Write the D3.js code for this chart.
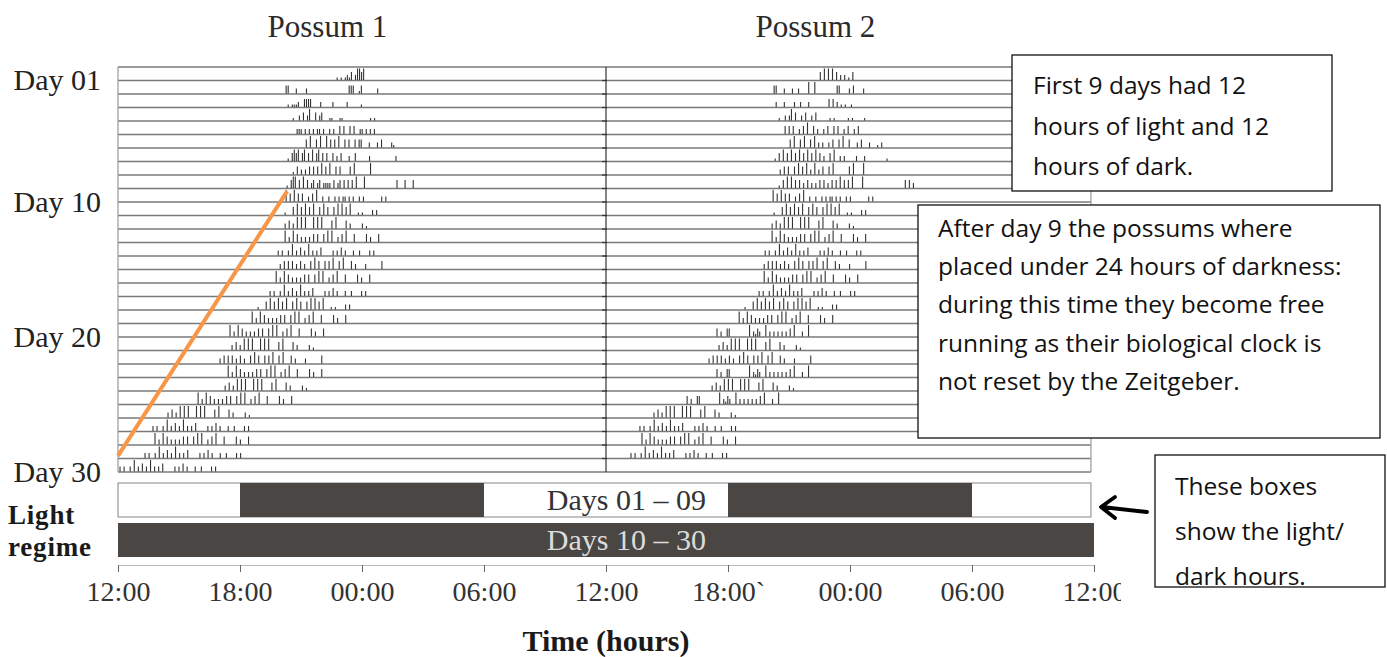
<!DOCTYPE html>
<html>
<head>
<meta charset="utf-8">
<script src="https://cdn.jsdelivr.net/npm/d3@7"></script>
<style>
  body { margin: 0; background: #fff; }
  svg { display: block; }
  .serif { font-family: "Liberation Serif", "DejaVu Serif", serif; }
  .note { font-family: "Open Sans", "Noto Sans", sans-serif; }
</style>
</head>
<body>
<div id="chart"></div>
<script>
//-----------------------------DATA-----------------------------//
const possumNames = ["Possum 1", "Possum 2"];
const dayTicks = [1, 10, 20, 30];
const dayTickLabels = ["Day 01", "Day 10", "Day 20", "Day 30"];
const timeTicks = [0, 6, 12, 18, 24, 30, 36, 42, 48];
const timeLabels = ["12:00", "18:00", "00:00", "06:00", "12:00", "18:00`", "00:00", "06:00", "12:00"];
const regimeLabels = ["Days 01 \u2013 09", "Days 10 \u2013 30"];
const darkHours0109 = [[6, 18], [30, 42]]; // hours after 12:00 on the 48 h axis
const darkHours1030 = [[0, 48]];

// activity bouts: one character per 0.1 h, digit = bar height level (blank = no activity)
const binHours = 0.1;
const boutA = "4 2 4 3 2 2 2 3 3  3 4 4  2 3 4   3     3 2   3";
const boutB = "2 2  2 4 2 3 2 4 2 2 3     2 2 3 2   2  2    2 2";
const boutC = "1   3 4 3 4 3 4  3 4 3  3 4 4 3 4   1 1    2 2";
const boutD = "2 3 2 4 4 4   4 4 4    3 4    3 2     2 1";
const boutE = "2 3 3 3 2 3 2  3 4 3  3 3 4  3 4   3 2    2       3";
const boutF = "3 2  33         4 2132  4 2 2 2 2 2 3 4   2  4";
const boutP = "4 3 4 3 3  2 3 4  2  2  2 2 22 2 2  2 2        2 2";

const possum1Onset = [10.78, 8.27, 8.37, 8.62, 8.81, 9.06, 8.37, 8.62, 8.32, 8.27,
  8.22, 8.22, 8.22, 7.88, 7.98, 7.78, 7.48, 6.89, 6.60, 5.51,
  5.61, 5.02, 5.42, 5.27, 3.94, 2.46, 1.72, 1.82, 1.33, 0.10];
const possum1Bouts = [
  "1 1 1213 24434",
  "33   2    2                    333  13       2",
  "1 1112  3333    2     2      2      1",
  "1  2 3 24  3 23   11   11             1 1",
  "222 2 2 2 22 2  2 2  3 3  3 3  22 2 2 2",
  "  3 4  3 4  4 3 3 4  3 3  3 33   2   2 3    21",
  "1 3434 34 3 4 34 3 3  3 2 3   2  3      2            2",
  "1 3 2 2 3 3 3 4 3 4  3 3    3 4       4",
  "1 344 3 4 3 23 23 2222 3 23 3 3 3 4   4               3   3   3",
  boutP, boutC, boutD, boutA, boutB, boutE, boutA, boutB, boutC, boutA, boutA,
  boutD, boutE, boutA, boutD, boutA, boutD, boutB, boutA, boutB, boutB
];

const possum2Onset = [10.54, 8.27, 8.37, 8.52, 8.81, 9.06, 8.32, 8.57, 8.52, 8.22,
  8.27, 8.17, 8.17, 7.83, 7.78, 7.78, 7.53, 6.84, 6.55, 5.46,
  5.56, 5.07, 5.46, 5.22, 3.99, 2.36, 1.67, 1.77, 1.23, 0];
const possum2Bouts = [
  "3 4 4 4 3 2 2 1 3",
  "33   2   2  2    4  4          33    2 3    2",
  "2   2    2  2   2         3 3 2 1 1  1",
  "1  2 24 3  2 3  2 3      1 1      1 1     1",
  "3 3 3  2 3 4  3 2  2 3  3 3  2 3  2 3",
  "3 4  3 4  3 4 2 2  2 3  3 4  3   2 3   2   1 2",
  "1 3 4 3 4 3 4 3 4 3 4 3 2  3 4  2 2     2   2          1",
  "2 3 3  3 4 3 4 2 4 2 3  3 4       3 4    4",
  "1 3 4 4 3 3 2 3 2 2 3 3 2 3 3 4 3 3 4    4                    3 3 2",
  boutP, boutC, boutD, boutA, boutB, boutE, boutA, boutB, boutC, boutA, boutF,
  boutD, boutE, boutF, boutD, boutF, boutD, boutB, boutA, boutB, ""
];

// hand-drawn trend line (hour after 12:00, day)
const trendLine = [{ hour: 0, day: 28.8 }, { hour: 8.32, day: 9.2 }];

const notes = [
  ["First 9 days had 12", "hours of light and 12", "hours of dark."],
  ["After day 9 the possums where", "placed under 24 hours of darkness:",
   "during this time they become free", "running as their biological clock is",
   "not reset by the Zeitgeber."],
  ["These boxes", "show the light/", "dark hours."]
];

//---------------------------SETUP------------------------------//
const width = 1387;
const height = 657;
const svg = d3.select("#chart").append("svg")
  .attr("width", width)
  .attr("height", height);

const x = d3.scaleLinear().domain([0, 48]).range([118, 1094]);
const y = d3.scaleLinear().domain([0, 30]).range([67, 472]);
const panelEnd = 47.85;
const levelHeight = [0, 2.5, 5, 8, 11.5];

const possums = [
  { name: possumNames[0], offset: 0, onset: possum1Onset, bouts: possum1Bouts },
  { name: possumNames[1], offset: 24, onset: possum2Onset, bouts: possum2Bouts }
];

//---------------------------TITLES-----------------------------//
svg.selectAll(".title").data(possums).join("text")
  .attr("class", "serif title")
  .attr("x", d => x(d.offset + 10.3))
  .attr("y", 37)
  .attr("text-anchor", "middle")
  .style("font-size", "31px")
  .style("fill", "#2a2a2a")
  .text(d => d.name);

//--------------------------ROW GRID----------------------------//
const grid = svg.append("g");
grid.selectAll("line.row").data(d3.range(0, 31)).join("line")
  .attr("class", "row")
  .attr("x1", x(0)).attr("x2", x(panelEnd))
  .attr("y1", d => y(d)).attr("y2", d => y(d))
  .attr("stroke", "#7a7a7a")
  .attr("stroke-width", 1.4);

grid.selectAll("line.edge").data([0, 24, panelEnd]).join("line")
  .attr("class", "edge")
  .attr("x1", d => x(d)).attr("x2", d => x(d))
  .attr("y1", y(0)).attr("y2", y(30))
  .attr("stroke", d => d === 24 ? "#333" : "#999")
  .attr("stroke-width", 1.2);

// small marks at the panel divider
grid.selectAll("line.mark").data(d3.range(1, 30)).join("line")
  .attr("class", "mark")
  .attr("x1", x(24) - 4).attr("x2", x(24) + 1)
  .attr("y1", d => y(d)).attr("y2", d => y(d))
  .attr("stroke", "#333")
  .attr("stroke-width", 1.2);

//-------------------------ACTIVITY-----------------------------//
possums.forEach(p => {
  const ticks = [];
  p.bouts.forEach((s, i) => {
    for (let k = 0; k < s.length; k++) {
      const c = s[k];
      if (c === " ") continue;
      ticks.push({ day: i + 1, hour: p.offset + p.onset[i] + k * binHours, level: +c });
    }
  });
  svg.append("g").selectAll("line").data(ticks).join("line")
    .attr("x1", d => x(d.hour)).attr("x2", d => x(d.hour))
    .attr("y1", d => y(d.day) - 0.5)
    .attr("y2", d => y(d.day) - 0.5 - levelHeight[d.level])
    .attr("stroke", "#333")
    .attr("stroke-width", 1.1);
});

//--------------------------TREND LINE--------------------------//
svg.append("path")
  .datum(trendLine)
  .attr("d", d3.line().x(d => x(d.hour)).y(d => y(d.day)))
  .attr("fill", "none")
  .attr("stroke", "#f79646")
  .attr("stroke-width", 4);

//-------------------------DAY LABELS---------------------------//
svg.selectAll(".daylab").data(dayTicks).join("text")
  .attr("class", "serif daylab")
  .attr("x", 101)
  .attr("y", d => y(d))
  .attr("dy", "0.33em")
  .attr("text-anchor", "end")
  .style("font-size", "30px")
  .style("fill", "#222")
  .text((d, i) => dayTickLabels[i]);

//-------------------------LIGHT REGIME-------------------------//
const band = d3.scaleBand().domain(regimeLabels).range([483, 557]).paddingInner(0.15);

svg.append("rect")
  .attr("x", x(0)).attr("y", band(regimeLabels[0]))
  .attr("width", x(panelEnd) - x(0)).attr("height", band.bandwidth())
  .attr("fill", "#fff").attr("stroke", "#999").attr("stroke-width", 1.2);

svg.selectAll(".dark0").data(darkHours0109).join("rect")
  .attr("class", "dark0")
  .attr("x", d => x(d[0])).attr("y", band(regimeLabels[0]))
  .attr("width", d => x(d[1]) - x(d[0])).attr("height", band.bandwidth())
  .attr("fill", "#4a4644");

svg.selectAll(".dark1").data(darkHours1030).join("rect")
  .attr("class", "dark1")
  .attr("x", d => x(d[0])).attr("y", band(regimeLabels[1]))
  .attr("width", d => x(d[1]) - x(d[0])).attr("height", band.bandwidth())
  .attr("fill", "#4a4644");

svg.selectAll(".reglab").data(regimeLabels).join("text")
  .attr("class", "serif reglab")
  .attr("x", x(25))
  .attr("y", d => band(d) + band.bandwidth() / 2)
  .attr("dy", "0.33em")
  .attr("text-anchor", "middle")
  .style("font-size", "30px")
  .style("fill", (d, i) => i === 0 ? "#333" : "#dcdcdc")
  .text(d => d);

svg.selectAll(".lightlab").data(["Light", "regime"]).join("text")
  .attr("class", "serif lightlab")
  .attr("x", 8)
  .attr("y", (d, i) => i === 0 ? 524 : 556)
  .style("font-size", "27px")
  .style("font-weight", "bold")
  .style("letter-spacing", "0.8px")
  .style("fill", "#1a1a1a")
  .text(d => d);

//-----------------------------AXIS-----------------------------//
svg.append("clipPath").attr("id", "axclip")
  .append("rect").attr("x", 0).attr("y", 0).attr("width", 1121).attr("height", height);

const xaxis = d3.axisBottom(x)
  .tickValues(timeTicks)
  .tickFormat((d, i) => timeLabels[i])
  .tickSize(7)
  .tickSizeOuter(0)
  .tickPadding(9);

const ax = svg.append("g")
  .attr("transform", "translate(0,565)")
  .attr("clip-path", "url(#axclip)")
  .call(xaxis);
ax.select(".domain").attr("stroke", "#bbb");
ax.selectAll(".tick line").attr("stroke", "#666");
ax.selectAll(".tick text")
  .attr("class", "serif")
  .style("font-size", "28px")
  .style("fill", "#333");

svg.append("text")
  .attr("class", "serif")
  .attr("x", x(24))
  .attr("y", 651)
  .attr("text-anchor", "middle")
  .style("font-size", "30px")
  .style("font-weight", "bold")
  .style("fill", "#1a1a1a")
  .text("Time (hours)");

//--------------------------ANNOTATIONS-------------------------//
const boxes = [
  { x0: 1012, y0: 55, x1: 1332, y1: 191, tx: 1033, ty: 94, step: 40.5 },
  { x0: 918, y0: 205, x1: 1380, y1: 438, tx: 938, ty: 237, step: 38.2 },
  { x0: 1155, y0: 455, x1: 1385, y1: 587, tx: 1175, ty: 495, step: 45 }
];

boxes.forEach((b, i) => {
  const g = svg.append("g");
  g.append("clipPath").attr("id", "note" + i)
    .append("rect").attr("x", b.x0).attr("y", b.y0).attr("width", b.x1 - b.x0).attr("height", b.y1 - b.y0);
  g.append("rect")
    .attr("x", b.x0).attr("y", b.y0)
    .attr("width", b.x1 - b.x0).attr("height", b.y1 - b.y0)
    .attr("fill", "#fff").attr("stroke", "#111").attr("stroke-width", 1.3);
  g.append("g").attr("clip-path", "url(#note" + i + ")")
    .selectAll("text").data(notes[i]).join("text")
    .attr("class", "note")
    .attr("x", b.tx)
    .attr("y", (d, j) => b.ty + j * b.step)
    .style("font-size", "24.5px")
    .style("fill", "#111")
    .text(d => d);
});

// arrow pointing at the light regime boxes
svg.append("path")
  .attr("d", "M1147,512 L1102,507 M1115,497 L1101,507 L1115,518")
  .attr("fill", "none")
  .attr("stroke", "#000")
  .attr("stroke-width", 3.8)
  .attr("stroke-linecap", "round")
  .attr("stroke-linejoin", "round");
</script>
</body>
</html>
